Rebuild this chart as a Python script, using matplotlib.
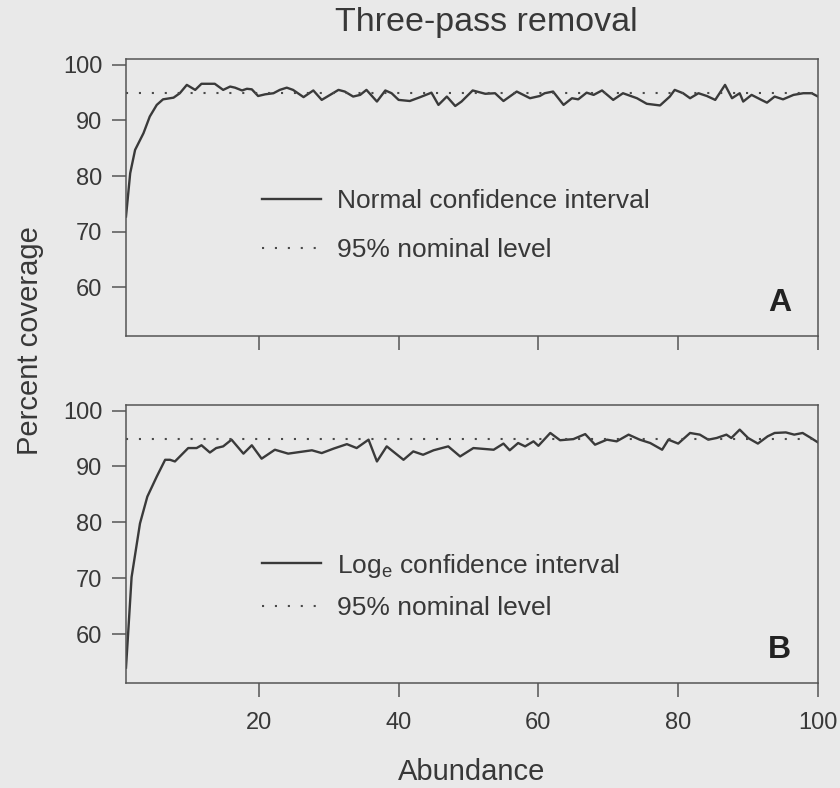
import matplotlib
matplotlib.use('Agg')
import matplotlib.pyplot as plt

plt.rcParams['font.family'] = ['Liberation Sans', 'DejaVu Sans']
plt.rcParams['mathtext.fontset'] = 'custom'
plt.rcParams['mathtext.rm'] = 'Liberation Sans'

# === DATA ===
abund_a = [1, 1.6, 2.3, 3.5, 4.4, 5.4, 6.3, 7.8, 8.7, 9.7, 10.9, 11.8, 13.7, 14.9, 15.9, 16.6,
           17.6, 18.3, 19.0, 19.9, 20.9, 22.1, 23.0, 24.0, 24.9, 26.4, 27.8, 29.0, 30.2, 31.4,
           32.3, 33.5, 34.5, 35.4, 36.9, 38.1, 39.0, 40.0, 41.6, 43.1, 44.7, 45.7, 46.9, 48.1,
           49.0, 50.6, 52.4, 53.8, 55.0, 56.9, 58.8, 60.2, 60.9, 62.1, 63.6, 64.8, 65.7, 66.9,
           67.9, 69.1, 70.7, 72.1, 74.1, 75.5, 77.4, 78.8, 79.5, 80.7, 81.7, 82.9, 84.1, 85.3,
           86.7, 87.7, 88.8, 89.3, 90.5, 91.9, 92.7, 93.8, 95.0, 96.5, 97.9, 99.1, 100]
cover_a = [72.7, 80.5, 84.7, 87.7, 90.7, 92.8, 93.8, 94.1, 94.9, 96.4, 95.5, 96.6, 96.6, 95.5,
           96.1, 95.9, 95.4, 95.7, 95.6, 94.4, 94.7, 94.9, 95.5, 95.9, 95.5, 94.2, 95.4, 93.7,
           94.6, 95.5, 95.2, 94.3, 94.6, 95.5, 93.4, 95.4, 94.9, 93.7, 93.5, 94.2, 95.0, 92.8,
           94.3, 92.6, 93.4, 95.4, 94.8, 94.9, 93.5, 95.2, 94.0, 94.4, 94.9, 95.2, 92.8, 94.0,
           93.8, 95.0, 94.6, 95.4, 93.7, 94.9, 94.0, 93.0, 92.7, 94.3, 95.5, 94.9, 94.0, 94.9,
           94.4, 93.7, 96.4, 94.0, 94.9, 93.4, 94.6, 93.7, 93.2, 94.3, 93.8, 94.6, 94.9, 94.9, 94.3]

abund_b = [1, 1.3, 1.8, 3.0, 4.05, 5.4, 6.6, 7.3, 8.0, 9.9, 11.1, 11.8, 13.0, 13.9, 14.9, 16.1,
           17.8, 19.0, 20.4, 22.3, 24.2, 27.6, 29.0, 30.7, 32.6, 34.0, 35.7, 36.9, 38.3, 40.7,
           42.1, 43.5, 45.0, 47.1, 48.8, 50.7, 53.6, 55.0, 55.9, 57.1, 58.1, 59.3, 60.0, 61.7,
           63.1, 65.0, 66.7, 68.1, 69.8, 71.2, 72.9, 74.5, 76.0, 77.7, 78.6, 80.0, 81.7, 83.1,
           84.3, 85.5, 86.9, 87.6, 88.8, 90.0, 91.4, 92.8, 93.8, 95.4, 96.6, 97.8, 99.0, 100]
cover_b = [54.0, 60.0, 70.2, 79.8, 84.6, 88.2, 91.2, 91.2, 90.9, 93.3, 93.3, 93.8, 92.5, 93.3,
           93.6, 94.8, 92.3, 93.8, 91.4, 93.0, 92.3, 92.9, 92.4, 93.2, 94.0, 93.3, 94.8, 90.9,
           93.6, 91.2, 92.7, 92.1, 92.9, 93.6, 91.8, 93.3, 93.0, 94.1, 92.9, 94.2, 93.6, 94.5,
           93.7, 96.0, 94.7, 94.9, 95.8, 93.9, 94.8, 94.5, 95.7, 94.8, 94.2, 93.0, 94.8, 94.1,
           96.0, 95.7, 94.8, 95.1, 95.7, 95.1, 96.6, 95.1, 94.1, 95.4, 96.0, 96.1, 95.7, 96.0,
           95.1, 94.3]

nominal = 95
x_ticks = [20, 40, 60, 80, 100]
x_ticklabels = ['20', '40', '60', '80', '100']
y_ticks = [60, 70, 80, 90, 100]
legend_a = ['Normal confidence interval', '95% nominal level']
legend_b = [r'Log$_\mathregular{e}$ confidence interval', '95% nominal level']
panel_letters = ['A', 'B']

# === STYLE ===
bg = '#e9e9e9'
ink = '#383838'
axcol = '#555555'

fig = plt.figure(figsize=(8.4, 7.88), dpi=100, facecolor=bg)
ax_a = fig.add_axes([0.15, 0.5736, 0.8238, 0.3511])
ax_b = fig.add_axes([0.15, 0.1329, 0.8238, 0.3531])

# axes, x, y, legend labels, legend centre (axes frac), legend row spacing
panels = [(ax_a, abund_a, cover_a, legend_a, 0.398, 0.95),
          (ax_b, abund_b, cover_b, legend_b, 0.35, 0.62)]

for i, (ax, xs, ys, labels, leg_y, leg_sp) in enumerate(panels):
    ax.set_facecolor(bg)
    l1, = ax.plot(xs, ys, color='#3a3a3a', lw=1.7, solid_joinstyle='round')
    l2 = ax.axhline(nominal, color='#4a4a4a', lw=1.5, linestyle=(0, (1, 5.2)))
    ax.set_xlim(1, 100)
    ax.set_ylim(51.2, 101)
    ax.set_xticks(x_ticks)
    ax.set_yticks(y_ticks)
    for s in ax.spines.values():
        s.set_color(axcol)
        s.set_linewidth(1.1)
    ax.tick_params(direction='out', length=10, width=1.1, color=axcol,
                   labelcolor=ink, labelsize=17)
    ax.tick_params(axis='y', pad=7)
    ax.tick_params(axis='x', pad=11)
    if i == 0:
        ax.set_xticklabels([])
    else:
        ax.set_xticklabels(x_ticklabels)
    leg = ax.legend([l1, l2], labels, loc='center left', bbox_to_anchor=(0.1965, leg_y),
                    frameon=False, fontsize=19, handlelength=2.25, handletextpad=0.6,
                    labelspacing=leg_sp, borderpad=0, borderaxespad=0)
    for t in leg.get_texts():
        t.set_color(ink)
    ax.text(0.945, 0.12, panel_letters[i], transform=ax.transAxes, ha='center', va='center',
            fontsize=23, fontweight='bold', color='#222222')

fig.text(486 / 840, 1 - 22 / 788, 'Three-pass removal', ha='center', va='center',
         fontsize=24.5, color=ink)
fig.text(472 / 840, 1 - 772 / 788, 'Abundance', ha='center', va='center',
         fontsize=21, color=ink)
fig.text(30 / 840, 1 - 341 / 788, 'Percent coverage', ha='center', va='center',
         rotation=90, fontsize=21, color=ink)

fig.savefig('out.png', dpi=100, facecolor=bg)
